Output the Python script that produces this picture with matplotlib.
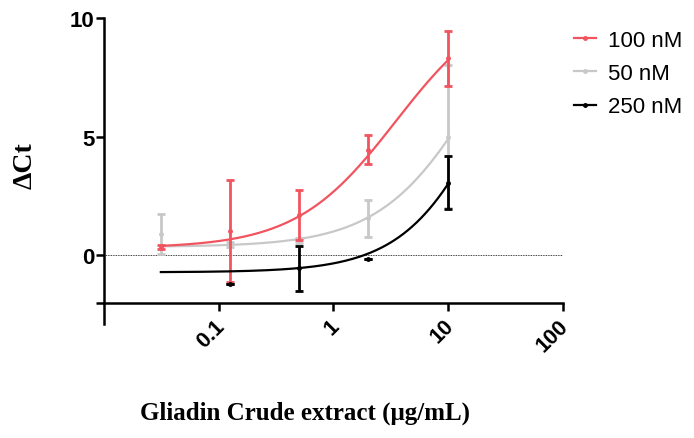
import numpy as np
import matplotlib
matplotlib.use("Agg")
import matplotlib.pyplot as plt

# concentrations (ug/mL)
x_100 = [0.03125, 0.125, 0.5, 2, 10]
x_50 = [0.03125, 0.125, 0.5, 2, 10]
x_250 = [0.125, 0.5, 2, 10]

# mean delta Ct and error
y_100 = [0.35, 1.0, 1.7, 4.45, 8.3]
e_100 = [0.1, 2.15, 1.05, 0.62, 1.15]
y_50 = [0.9, 0.46, 0.62, 1.55, 5.0]
e_50 = [0.85, 0.1, 0.1, 0.78, 3.0]
y_250 = [-1.22, -0.56, -0.17, 3.05]
e_250 = [0.0, 0.95, 0.0, 1.12]

# fitted 4PL parameters: bottom, top, EC50, hill slope
fit_100 = [0.3, 11.0, 3.5, 1.0]
fit_50 = [0.35, 14.0, 20.0, 1.0]
fit_250 = [-0.72, 15.5, 30.0, 1.1]

labels = ['100 nM', '50 nM', '250 nM']
colors = ['#F2545F', '#C8C8C8', '#000000']


def four_pl(x, bottom, top, ec50, hill):
    return bottom + (top - bottom) / (1 + (ec50 / x) ** hill)


fig = plt.figure(figsize=(6.94, 4.39), dpi=100)
ax = fig.add_axes([0.150, 0.2597, 0.661, 0.6970])

# Prism style axes: x axis crosses at y = -2
for s in ['top', 'right']:
    ax.spines[s].set_visible(False)
ax.spines['bottom'].set_position(('data', -2))
ax.spines['left'].set_linewidth(1.8)
ax.spines['bottom'].set_linewidth(1.8)

xs = np.logspace(np.log10(0.03125), 1, 200)
series = [(x_50, y_50, e_50, fit_50, labels[1], colors[1], 2),
          (x_100, y_100, e_100, fit_100, labels[0], colors[0], 3),
          (x_250, y_250, e_250, fit_250, labels[2], colors[2], 4)]
handles = {}
for xd, yd, ed, p, lab, c, z in series:
    ax.plot(xs, four_pl(xs, *p), color=c, lw=1.6, zorder=z)
    ax.errorbar(xd, yd, yerr=ed, fmt='o', ms=2.5, color=c, ecolor=c,
                elinewidth=2, capsize=3, capthick=2, zorder=z)
    h, = ax.plot([], [], color=c, lw=1.6, marker='o', ms=2.5)
    handles[lab] = h

ax.axhline(0, color='black', lw=0.6, ls=(0, (1, 1)), zorder=1)

ax.set_xscale('log')
ax.set_xlim(0.01, 100)
ax.set_ylim(-2.9, 10)
ax.set_xticks([0.1, 1, 10, 100])
ax.xaxis.set_minor_locator(matplotlib.ticker.NullLocator())
ax.set_xticklabels(['0.1', '1', '10', '100'], rotation=45, ha='right',
                   rotation_mode='anchor', fontsize=15.5, fontweight='bold',
                   family='Liberation Sans')
ax.set_yticks([-2, 0, 5, 10])
ax.set_yticklabels(['', '0', '5', '10'], fontsize=16, fontweight='bold',
                   family='Liberation Sans')
ax.tick_params(width=1.8, length=6, pad=1)
ax.tick_params(axis='x', pad=3)

# nudge the rotated x labels a bit left, as in the original
offset = matplotlib.transforms.ScaledTranslation(-5 / 100, 0, fig.dpi_scale_trans)
for lab in ax.get_xticklabels():
    lab.set_transform(lab.get_transform() + offset)

fig.text(0.036, 0.622, 'ΔCt', rotation=90, ha='center', va='center',
         family='Liberation Serif', fontweight='bold', fontsize=20)
fig.text(0.44, 0.059, 'Gliadin Crude extract (μg/mL)', ha='center',
         va='center', family='Liberation Serif', fontweight='bold', fontsize=18)

fig.legend([handles[l] for l in labels], labels, loc='upper left',
           bbox_to_anchor=(0.805, 0.965), frameon=False, handlelength=1.0,
           handletextpad=0.5, labelspacing=0.55, borderaxespad=0.3,
           prop={'family': 'Liberation Sans', 'size': 16})

fig.savefig('out.png', dpi=100)
